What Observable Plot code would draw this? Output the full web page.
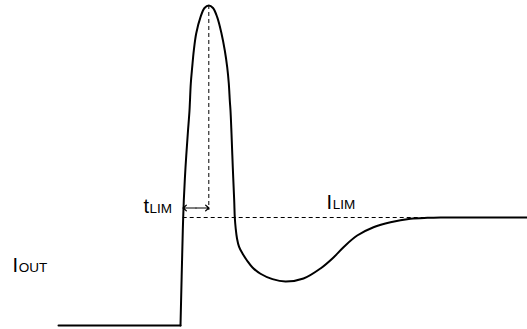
<!DOCTYPE html>
<html>
<head>
<meta charset="utf-8">
<script src="https://cdn.jsdelivr.net/npm/d3@7"></script>
<script src="https://cdn.jsdelivr.net/npm/@observablehq/plot@0.6"></script>
<style>
  html, body { margin: 0; padding: 0; background: #fff; }
  svg { display: block; }
</style>
</head>
<body>
<div id="chart"></div>
<script>
// Time axis (arbitrary units) and output current (normalised to I_LIM = 1)
const baseTime = [58, 180];
const baseCurrent = [0, 0];

const pulseTime = [180, 182.3, 182.7, 183.3, 185, 187.3, 189, 190.3, 191.7, 193.3, 195.7, 200, 204, 208.3, 212.5,
  216.7, 221, 224.3, 226.7, 228.3, 229.3, 230, 231, 232.3, 233.7, 234.3, 235.2, 236.5, 238.5, 242, 246.5, 252, 260,
  272, 285, 303, 320, 333, 343, 356.7, 373, 390, 410, 427, 440, 526];
const pulseCurrent = [0, 0.88, 1.0, 1.157, 1.463, 1.778, 1.991, 2.241, 2.392, 2.546, 2.704, 2.855, 2.94, 2.963, 2.94,
  2.855, 2.704, 2.546, 2.392, 2.241, 2.083, 1.991, 1.778, 1.463, 1.157, 1.0, 0.898, 0.806, 0.731, 0.667, 0.602, 0.537, 0.479,
  0.429, 0.407, 0.435, 0.528, 0.63, 0.725, 0.833, 0.91, 0.956, 0.988, 0.997, 1.0, 1.0];

// Reference lines
const limitTime = [182.7, 427];
const limitCurrent = 1.0;
const peakTime = 208.3;
const peakCurrent = [2.963, 1.065];

// t_LIM arrow
const arrowTime = [182.5, 208.5];
const arrowCurrent = 1.088;

// Labels (main letter + subscript)
const labelMain = ["t", "I", "I"];
const labelSub = ["LIM", "LIM", "OUT"];
const labelTime = [143, 326, 12];
const subTime = [149, 332.2, 18.2];
const labelCurrent = [1.046, 1.082, 0.495];

const base = baseTime.map((t, i) => ({t, c: baseCurrent[i]}));
const pulse = pulseTime.map((t, i) => ({t, c: pulseCurrent[i]}));
const mid = (arrowTime[0] + arrowTime[1]) / 2;
const arrows = [
  {x1: mid, x2: arrowTime[0], y: arrowCurrent},
  {x1: mid, x2: arrowTime[1], y: arrowCurrent}
];
const labels = labelMain.map((m, i) => ({m, s: labelSub[i], x: labelTime[i], sx: subTime[i], y: labelCurrent[i]}));

const font = "Liberation Sans, Arial, Helvetica, sans-serif";

const chart = Plot.plot({
  width: 527,
  height: 329,
  margin: 0,
  x: {domain: [0, 527], axis: null},
  y: {domain: [-4 / 108, 325 / 108], axis: null},
  style: {background: "#fff"},
  marks: [
    Plot.ruleY([limitCurrent], {x1: limitTime[0], x2: limitTime[1], stroke: "#000", strokeWidth: 1, strokeDasharray: "4,3"}),
    Plot.ruleX([peakTime], {y1: peakCurrent[0], y2: peakCurrent[1], stroke: "#000", strokeWidth: 1, strokeDasharray: "4,3"}),
    Plot.line(base, {x: "t", y: "c", stroke: "#000", strokeWidth: 2}),
    Plot.line(pulse, {x: "t", y: "c", stroke: "#000", strokeWidth: 2, curve: "catmull-rom"}),
    Plot.arrow(arrows, {x1: "x1", x2: "x2", y1: "y", y2: "y", stroke: "#000", strokeWidth: 1.2, headLength: 9, headAngle: 80}),
    Plot.text(labels, {x: "x", y: "y", text: "m", textAnchor: "start", lineAnchor: "bottom", fontSize: 20, fontFamily: font, fill: "#000"}),
    Plot.text(labels, {x: "sx", y: "y", text: "s", textAnchor: "start", lineAnchor: "bottom", fontSize: 13.5, fontFamily: font, fill: "#000"})
  ]
});
document.getElementById("chart").appendChild(chart);
</script>
</body>
</html>
